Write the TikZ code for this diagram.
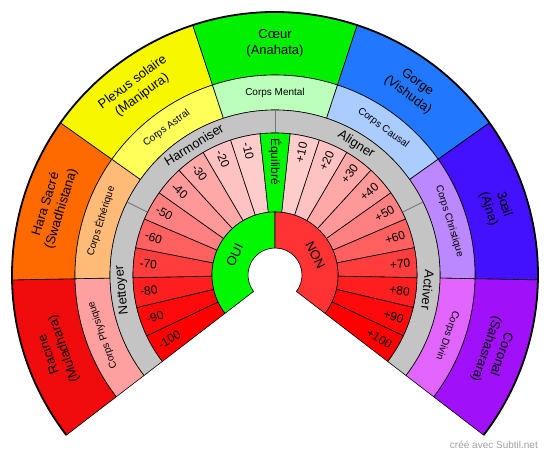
\documentclass[tikz,border=0pt]{standalone}
\usepackage{fontspec}
\setmainfont{Liberation Sans}
\newcommand\annsec[5]{\path[#1] (#2:#4) arc[start angle=#2,end angle=#3,radius=#4] -- (#3:#5) arc[start angle=#3,end angle=#2,radius=#5] -- cycle;}
\definecolor{chR}{HTML}{F00C0C}
\definecolor{chH}{HTML}{FF6A00}
\definecolor{chP}{HTML}{F7F700}
\definecolor{chC}{HTML}{00F000}
\definecolor{chG}{HTML}{2277FF}
\definecolor{chT}{HTML}{4411FF}
\definecolor{chS}{HTML}{A010F8}
\definecolor{coR}{HTML}{FFA0A0}
\definecolor{coH}{HTML}{FFBB77}
\definecolor{coP}{HTML}{FFFF5A}
\definecolor{coC}{HTML}{BBFFBB}
\definecolor{coG}{HTML}{AACCFF}
\definecolor{coT}{HTML}{BB88FF}
\definecolor{coS}{HTML}{E066FF}
\definecolor{ringgray}{HTML}{C4C4C4}
\definecolor{sepgray}{HTML}{777777}
\definecolor{ouigreen}{HTML}{00F800}
\definecolor{nonred}{HTML}{FF3333}
\definecolor{credit}{HTML}{A0A0A0}
\begin{document}
\begin{tikzpicture}[x=1pt,y=1pt,line join=round,
  sec/.style={draw=black,line width=0.6pt},
  chk/.style={font=\fontsize{13}{16}\selectfont,align=center,inner sep=0pt},
  crp/.style={font=\fontsize{10}{12}\selectfont,inner sep=0pt},
  grl/.style={font=\fontsize{13}{15}\selectfont,inner sep=0pt},
  scl/.style={font=\fontsize{12}{14}\selectfont,inner sep=0pt}]
\useasboundingbox (-275,-182) rectangle (275,275);
% chakra ring
\foreach \c [count=\i from 0] in {chR,chH,chP,chC,chG,chT,chS} {
  \pgfmathsetmacro\aa{217.5-\i*255/7}
  \pgfmathsetmacro\ab{\aa-255/7}
  \annsec{sec,fill=\c}{\aa}{\ab}{200pt}{263pt}
}
% corps ring
\foreach \c [count=\i from 0] in {coR,coH,coP,coC,coG,coT,coS} {
  \pgfmathsetmacro\aa{217.5-\i*255/7}
  \pgfmathsetmacro\ab{\aa-255/7}
  \annsec{sec,fill=\c}{\aa}{\ab}{165pt}{200pt}
}
% gray ring
\annsec{sec,fill=ringgray}{217.5}{-37.5}{142pt}{165pt}
\foreach \a in {153.75,90,26.25} {
  \draw[sepgray,line width=0.9pt] (\a:142.4pt) -- (\a:164.6pt);
}
% scale left
\foreach \v/\p [count=\i from 0] in {100/100,90/96,80/88,70/76,60/62,50/50,40/40,30/34,20/24,10/20} {
  \pgfmathsetmacro\aa{217.5-\i*255/21}
  \pgfmathsetmacro\ab{\aa-255/21}
  \pgfmathsetmacro\am{\aa-255/42}
  \pgfmathsetmacro\rt{\am+180}
  \annsec{sec,fill=red!\p!white}{\aa}{\ab}{63pt}{142pt}
  \node[scl,rotate=\rt,anchor=west] (m\v) at (\am:136pt) {-\v};
}
% scale right
\foreach \v/\p [count=\i from 11] in {10/20,20/24,30/34,40/40,50/50,60/62,70/76,80/88,90/96,100/100} {
  \pgfmathsetmacro\aa{217.5-\i*255/21}
  \pgfmathsetmacro\ab{\aa-255/21}
  \pgfmathsetmacro\am{\aa-255/42}
  \annsec{sec,fill=red!\p!white}{\aa}{\ab}{63pt}{142pt}
  \node[scl,rotate=\am,anchor=east] (p\v) at (\am:136pt) {+\v};
}
% equilibre
\annsec{sec,fill=ouigreen}{96.0714}{83.9286}{63pt}{142pt}
\node[scl,rotate=-90,anchor=west] (equi) at (90:137pt) {Équilibré};
% oui / non
\annsec{sec,fill=ouigreen}{217.5}{90}{27pt}{63pt}
\annsec{sec,fill=nonred}{90}{-37.5}{27pt}{63pt}
\node[grl,rotate=63.75] (oui) at (153.75:45pt) {OUI};
\node[grl,rotate=-63.75] (non) at (26.25:45pt) {NON};
% outer thick arc
\draw[line width=1.8pt] (217.5:263pt) arc[start angle=217.5,end angle=-37.5,radius=263pt];
% chakra labels
\node[chk,rotate=109.2857] (racine) at (199.2857:231.5pt) {Racine\\(Muladhara)};
\node[chk,rotate=72.8571] (hara) at (162.8571:231.5pt) {Hara Sacré\\(Swadhistana)};
\node[chk,rotate=36.4286] (plexus) at (126.4286:231.5pt) {Plexus solaire\\(Manipura)};
\node[chk,rotate=0] (coeur) at (90:231.5pt) {Cœur\\(Anahata)};
\node[chk,rotate=-36.4286] (gorge) at (53.5714:231.5pt) {Gorge\\(Vishuda)};
\node[chk,rotate=-72.8571] (oeil) at (17.1429:231.5pt) {3œil\\(Ajna)};
\node[chk,rotate=-109.2857] (coronal) at (-19.2857:231.5pt) {Coronal\\(Sahasrara)};
% corps labels
\node[crp,rotate=109.2857] (cphy) at (199.2857:182.5pt) {Corps Physique};
\node[crp,rotate=72.8571] (ceth) at (162.8571:182.5pt) {Corps Éthérique};
\node[crp,rotate=36.4286] (cast) at (126.4286:182.5pt) {Corps Astral};
\node[crp,rotate=0] (cmen) at (90:182.5pt) {Corps Mental};
\node[crp,rotate=-36.4286] (ccau) at (53.5714:182.5pt) {Corps Causal};
\node[crp,rotate=-72.8571] (cchr) at (17.1429:182.5pt) {Corps Christique};
\node[crp,rotate=-109.2857] (cdiv) at (-19.2857:182.5pt) {Corps Divin};
% gray ring labels
\node[grl,rotate=95.625] (nett) at (185.625:153.5pt) {Nettoyer};
\node[grl,rotate=31.875] (harm) at (121.875:153.5pt) {Harmoniser};
\node[grl,rotate=-31.875] (alig) at (58.125:153.5pt) {Aligner};
\node[grl,rotate=-95.625] (acti) at (-5.625:153.5pt) {Activer};
% credit
\node[font=\fontsize{10}{12}\selectfont,text=credit,anchor=east,inner sep=0pt] (cred) at (263,-170) {créé avec Subtil.net};
\end{tikzpicture}
\end{document}
